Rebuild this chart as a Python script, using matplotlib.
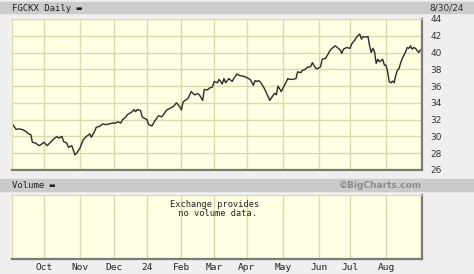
import numpy as np
import matplotlib
matplotlib.use("Agg")
import matplotlib.pyplot as plt
from matplotlib.patches import Rectangle

# FGCKX daily close (trading day number since 2023-09-05)
start = "2023-09-05"
holidays = ["2023-09-04", "2023-11-23", "2023-12-25", "2024-01-01", "2024-01-15",
            "2024-02-19", "2024-03-29", "2024-05-27", "2024-06-19", "2024-07-04"]

day = [0, 2, 4, 6, 8, 9, 11, 12, 14, 16, 17, 19, 21, 23, 25, 27, 28, 30, 31, 33,
       34, 36, 38, 39, 41, 43, 45, 47, 48, 50, 51, 53, 55, 57, 59, 61, 63, 64, 66, 67,
       69, 70, 73, 74, 75, 76, 78, 79, 80, 82, 83, 85, 86, 88, 89, 91, 92, 94, 96, 98,
       100, 102, 103, 104, 106, 107, 109, 111, 113, 114, 116, 117, 119, 120, 122, 123, 125, 126, 128, 129,
       130, 132, 134, 135, 137, 138, 140, 142, 144, 145, 147, 148, 149, 150, 151, 153, 154, 155, 157, 158,
       160, 161, 162, 164, 166, 168, 169, 171, 173, 174, 176, 177, 178, 180, 182, 183, 185, 186, 188, 189,
       191, 192, 194, 195, 197, 198, 200, 201, 202, 204, 206, 207, 209, 210, 212, 213, 214, 215, 217, 218,
       219, 220, 221, 222, 223, 224, 226, 227, 228, 229, 230, 231, 232, 233, 234, 235, 236, 237, 238, 240,
       241, 242, 243, 244, 245, 246, 248, 249]
close = [31.4, 30.85, 30.9, 30.8, 30.6, 30.4, 30.2, 29.3, 29.2, 28.9, 29.0, 29.3, 28.9, 29.3, 29.7, 30.0, 29.8, 30.0, 29.4, 29.2,
         28.7, 28.9, 27.8, 28.0, 28.6, 29.6, 30.0, 30.3, 29.9, 30.6, 31.1, 31.2, 31.5, 31.4, 31.5, 31.6, 31.6, 31.75, 31.6, 32.0,
         32.3, 32.6, 32.95, 33.2, 32.95, 33.2, 33.1, 32.35, 32.2, 32.0, 31.4, 31.25, 31.6, 32.2, 32.45, 32.35, 32.6, 33.15, 33.35, 33.55,
         34.0, 33.55, 33.15, 34.1, 34.4, 34.5, 35.35, 34.95, 35.1, 34.95, 34.3, 35.6, 35.55, 35.75, 35.9, 36.55, 36.4, 36.8, 36.25, 36.9,
         36.4, 36.9, 36.55, 36.9, 37.45, 37.3, 37.2, 37.1, 36.9, 36.8, 36.1, 36.65, 36.55, 36.65, 36.55, 35.95, 35.6, 35.15, 34.3, 34.6,
         35.15, 34.95, 36.0, 35.35, 36.1, 36.9, 36.8, 36.8, 36.9, 37.7, 37.6, 37.9, 37.9, 38.25, 38.3, 38.8, 38.15, 38.05, 38.3, 39.2,
         39.3, 39.6, 40.3, 40.5, 40.8, 40.65, 40.3, 39.9, 40.4, 40.6, 40.5, 41.0, 41.5, 41.85, 42.2, 41.6, 41.9, 41.85, 41.9, 40.8,
         40.0, 40.5, 40.1, 38.7, 39.2, 38.9, 39.2, 38.5, 38.5, 37.7, 36.5, 36.4, 36.6, 36.4, 37.3, 37.9, 38.1, 38.8, 39.3, 40.1,
         40.6, 40.5, 40.8, 40.4, 40.6, 40.5, 40.0, 40.3]

month_starts = ["2023-10-01", "2023-11-01", "2023-12-01", "2024-01-01", "2024-02-01", "2024-03-01",
                "2024-04-01", "2024-05-01", "2024-06-01", "2024-07-01", "2024-08-01"]
month_labels = ["Oct", "Nov", "Dec", "24", "Feb", "Mar", "Apr", "May", "Jun", "Jul", "Aug"]
price_ticks = list(range(26, 46, 2))

month_pos = np.busday_count(start, month_starts, holidays=holidays)

bg = "#FFFFE3"
grid_c = "#DCD8AE"
dark = "#7a7a7a"
mono = ["DejaVu Sans Mono", "DejaVu Sans"]

fig = plt.figure(figsize=(4.74, 2.74), dpi=100, facecolor="#EFEFEF")

# header bands
fig.patches.append(Rectangle((0, 0.9526), 1, 0.0401, transform=fig.transFigure,
                             color="#CBCBCB", zorder=0))
fig.patches.append(Rectangle((0, 0.3029), 1, 0.0438, transform=fig.transFigure,
                             color="#CBCBCB", zorder=0))
fig.text(0.0253, 0.9708, "FGCKX Daily ▬", fontsize=6.5, family=mono, va="center", color="#222")
fig.text(0.905, 0.9708, "8/30/24", fontsize=6.5, va="center", color="#333")
fig.text(0.0253, 0.3248, "Volume ▬", fontsize=6.5, family=mono, va="center", color="#222")
fig.text(0.890, 0.3248, "©BigCharts.com", fontsize=6.5, va="center", ha="right",
         color="#8a8a8a", fontweight="bold")

# price panel
ax = fig.add_axes([0.0253, 0.3796, 0.865, 0.5511])
ax.set_facecolor(bg)
ax.plot(day, close, color="#2b2b2b", lw=1.0)
ax.set_xlim(-0.5, 250)
ax.set_ylim(26, 44)
ax.set_yticks(price_ticks)
ax.set_xticks(month_pos)
ax.set_xticklabels([])
ax.yaxis.tick_right()
ax.tick_params(axis="both", length=0, labelsize=6.5, pad=6, colors="#333")
ax.grid(True, color=grid_c, lw=1.0)

# volume panel
ax2 = fig.add_axes([0.0253, 0.0547, 0.865, 0.2336])
ax2.set_facecolor(bg)
ax2.set_xlim(-0.5, 250)
ax2.set_ylim(0, 1)
ax2.set_yticks([])
ax2.set_xticks(month_pos)
ax2.set_xticklabels(month_labels, family=mono)
ax2.tick_params(axis="x", length=0, labelsize=6.8, pad=3, colors="#222")
ax2.grid(True, axis="x", color=grid_c, lw=1.0)
ax2.text(0.495, 0.78, "Exchange provides\n no volume data.", transform=ax2.transAxes,
         ha="center", va="center", fontsize=6.2, family=mono, linespacing=0.95, color="#222")

for a in (ax, ax2):
    a.set_axisbelow(True)
    for s in ("left", "top"):
        a.spines[s].set_color(grid_c)
        a.spines[s].set_linewidth(0.8)
    for s in ("bottom", "right"):
        a.spines[s].set_color(dark)
        a.spines[s].set_linewidth(1.6)

fig.savefig("out.png", dpi=100, facecolor=fig.get_facecolor())
